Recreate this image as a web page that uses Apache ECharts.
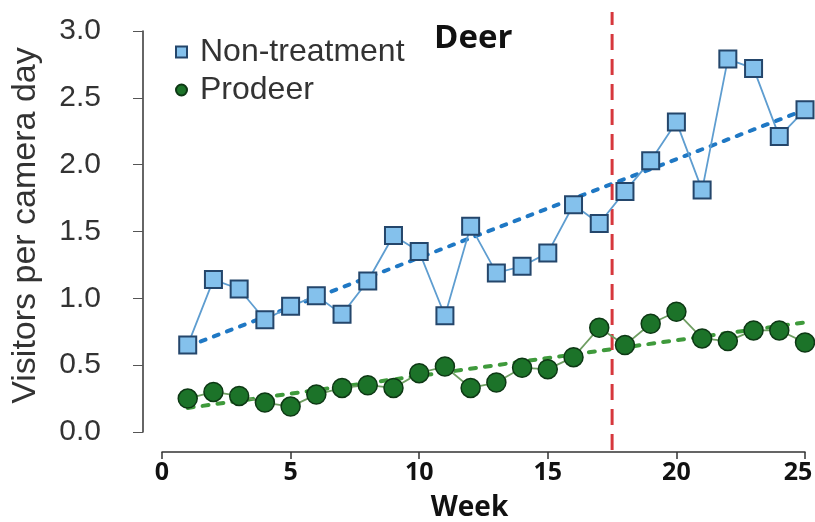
<!DOCTYPE html>
<html>
<head>
<meta charset="utf-8">
<script src="https://cdn.jsdelivr.net/npm/echarts@6/dist/echarts.min.js"></script>
<style>
  html, body { margin: 0; padding: 0; background: #ffffff; }
  #chart { width: 815px; height: 522px; }
</style>
</head>
<body>
<div id="chart"></div>
<script>
// Weekly deer visits per camera day at the two site types
const weeks = [1, 2, 3, 4, 5, 6, 7, 8, 9, 10, 11, 12, 13, 14, 15, 16, 17, 18, 19, 20, 21, 22, 23, 24, 25];
const nonTreatment = [0.65, 1.14, 1.07, 0.84, 0.94, 1.02, 0.88, 1.13, 1.47, 1.35, 0.87, 1.54, 1.19, 1.24, 1.34, 1.70, 1.56, 1.80, 2.03, 2.32, 1.81, 2.79, 2.72, 2.21, 2.41];
const prodeer = [0.25, 0.30, 0.27, 0.22, 0.19, 0.28, 0.33, 0.35, 0.33, 0.44, 0.49, 0.33, 0.37, 0.48, 0.47, 0.56, 0.78, 0.65, 0.81, 0.90, 0.70, 0.68, 0.76, 0.76, 0.67];

// Linear trend endpoints (week 1 and week 25)
const trendWeeks = [1, 25];
const nonTreatmentTrend = [0.64, 2.41];
const prodeerTrend = [0.18, 0.82];

// Week at which treatment began
const treatmentWeek = 17.5;

const yTicks = [0, 0.5, 1.0, 1.5, 2.0, 2.5, 3.0];
const xTicks = [0, 5, 10, 15, 20, 25];

const pairs = (xs, ys) => xs.map((x, i) => [x, ys[i]]);

const chart = echarts.init(document.getElementById('chart'), null, { renderer: 'canvas' });

const xMax = xTicks[xTicks.length - 1];

const option = {
  backgroundColor: '#ffffff',
  animation: false,
  title: {
    text: 'Deer',
    left: 434,
    top: 22,
    padding: 0,
    textStyle: { fontFamily: 'Open Sans', fontWeight: 'bold', fontSize: 33, color: '#111111' }
  },
  legend: {
    orient: 'vertical',
    left: 175,
    top: 36,
    padding: 0,
    itemWidth: 11,
    itemHeight: 11,
    itemGap: 6,
    textStyle: { fontFamily: 'Liberation Sans', fontSize: 32, color: '#333333', lineHeight: 32, padding: [0, 0, 0, 8] },
    data: [
      { name: 'Non-treatment', icon: 'rect' },
      { name: 'Prodeer', icon: 'circle' }
    ]
  },
  grid: [
    { left: 162, right: 10, top: 31, bottom: 90, outerBoundsMode: 'none' },
    { left: 162, right: 10, top: 12, bottom: 72, outerBoundsMode: 'none' }
  ],
  xAxis: [
    {
      gridIndex: 0,
      type: 'value',
      min: xTicks[0],
      max: xMax,
      interval: 5,
      offset: 20,
      name: 'Week',
      nameLocation: 'middle',
      nameGap: 42,
      nameTextStyle: { fontFamily: 'Open Sans', fontWeight: 'bold', fontSize: 28, color: '#111111', padding: [0, 28, 0, 0] },
      axisLine: { show: true, onZero: false, lineStyle: { color: '#333333', width: 1.5 } },
      axisTick: { show: true, length: 7, lineStyle: { color: '#333333', width: 1.5 } },
      axisLabel: {
        margin: 8,
        fontFamily: 'Open Sans',
        fontWeight: 'bold',
        fontSize: 25,
        color: '#111111',
        // keep the last label inside the right edge
        formatter: v => (v === xMax ? '{last|' + v + '}' : String(v)),
        rich: {
          last: { fontFamily: 'Open Sans', fontWeight: 'bold', fontSize: 25, color: '#111111', padding: [0, 14, 0, 0] }
        }
      },
      splitLine: { show: false }
    },
    {
      gridIndex: 1,
      type: 'value',
      min: xTicks[0],
      max: xMax,
      show: false
    }
  ],
  yAxis: [
    {
      gridIndex: 0,
      type: 'value',
      min: yTicks[0],
      max: yTicks[yTicks.length - 1],
      interval: 0.5,
      offset: 19,
      name: 'Visitors per camera day',
      nameLocation: 'middle',
      nameGap: 100,
      nameTextStyle: { fontFamily: 'Liberation Sans', fontSize: 34, color: '#333333', padding: [0, 0, 0, 12] },
      axisLine: { show: true, onZero: false, lineStyle: { color: '#333333', width: 1.5 } },
      axisTick: { show: true, length: 10, lineStyle: { color: '#555555', width: 1 } },
      axisLabel: {
        margin: 42,
        fontFamily: 'Liberation Sans',
        fontSize: 30,
        color: '#333333',
        formatter: v => v.toFixed(1)
      },
      splitLine: { show: false }
    },
    {
      gridIndex: 1,
      type: 'value',
      min: 0,
      max: 1,
      show: false
    }
  ],
  series: [
    {
      name: 'Non-treatment trend',
      type: 'line',
      xAxisIndex: 0,
      yAxisIndex: 0,
      data: pairs(trendWeeks, nonTreatmentTrend),
      symbol: 'none',
      z: 1,
      lineStyle: { color: '#1f78c4', width: 4, type: [5, 9], cap: 'round' }
    },
    {
      name: 'Prodeer trend',
      type: 'line',
      xAxisIndex: 0,
      yAxisIndex: 0,
      data: pairs(trendWeeks, prodeerTrend),
      symbol: 'none',
      z: 1,
      lineStyle: { color: '#3f9a3c', width: 4, type: [6, 9], cap: 'round' }
    },
    {
      name: 'Treatment start',
      type: 'line',
      xAxisIndex: 1,
      yAxisIndex: 1,
      data: [[treatmentWeek, 0], [treatmentWeek, 1]],
      symbol: 'none',
      z: 2,
      lineStyle: { color: '#d6373c', width: 3, type: [16, 9] }
    },
    {
      name: 'Non-treatment',
      type: 'line',
      xAxisIndex: 0,
      yAxisIndex: 0,
      data: pairs(weeks, nonTreatment),
      symbol: 'rect',
      symbolSize: 17,
      z: 3,
      lineStyle: { color: '#5e9dd0', width: 1.8 },
      itemStyle: { color: '#84c1ec', borderColor: '#24466b', borderWidth: 2 }
    },
    {
      name: 'Prodeer',
      type: 'line',
      xAxisIndex: 0,
      yAxisIndex: 0,
      data: pairs(weeks, prodeer),
      symbol: 'circle',
      symbolSize: 19,
      z: 3,
      lineStyle: { color: '#6f9e62', width: 1.8 },
      itemStyle: { color: '#1c7329', borderColor: '#0d3814', borderWidth: 1.5 }
    }
  ]
};

chart.setOption(option);
</script>
</body>
</html>
